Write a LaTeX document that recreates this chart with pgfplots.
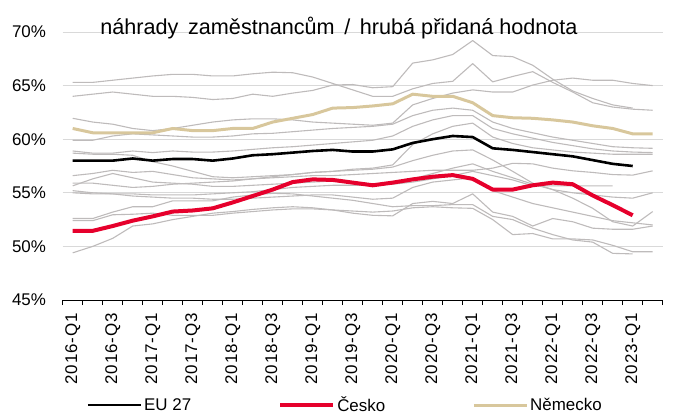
\documentclass[border=0pt]{standalone}
\usepackage{fontspec}
\setmainfont{Liberation Sans}
\usepackage{pgfplots}
\pgfplotsset{compat=1.18}
\definecolor{czred}{RGB}{230,0,44}
\definecolor{detan}{RGB}{216,199,156}
\definecolor{lgray}{RGB}{190,187,187}
\definecolor{gridc}{RGB}{217,217,217}
\begin{document}
\begin{tikzpicture}
\useasboundingbox (0,0) rectangle (678bp,417bp);
\begin{axis}[
  at={(62.7bp,117bp)}, anchor=south west,
  scale only axis, width=600bp, height=268bp,
  xmin=-0.5, xmax=29.5, ymin=45, ymax=70,
  axis x line*=bottom, axis y line*=left,
  y axis line style={draw=none},
  x axis line style={black, line width=0.9bp, -},
  ytick={45,50,...,70},
  ytick style={draw=none},
  ymajorgrids, grid style={gridc, line width=0.9bp},
  yticklabel={\pgfmathprintnumber{\tick}\%},
  /pgf/number format/assume math mode=true,
  tick label style={font=\fontsize{17}{20}\selectfont},
  yticklabel style={xshift=-9bp},
  xtick={0,2,...,28},
  xticklabels={2016-Q1,2016-Q3,2017-Q1,2017-Q3,2018-Q1,2018-Q3,2019-Q1,2019-Q3,2020-Q1,2020-Q3,2021-Q1,2021-Q3,2022-Q1,2022-Q3,2023-Q1},
  xticklabel style={rotate=90, anchor=east, font=\addfontfeatures{LetterSpace=6}\fontsize{17}{20}\selectfont},
  xticklabel shift=5bp,
  major x tick style={draw=none},
  minor xtick={-0.5,0.5,...,29.5},
  minor tick length=5bp,
  minor x tick style={black, line width=0.9bp},
  tick align=outside,
  clip=false,
  legend columns=3,
  legend image code/.code={\draw[#1] (0bp,0bp) -- (53bp,0bp);},
  legend style={at={(0.0395,-0.392)}, anchor=west, draw=none, fill=none,
    inner sep=0pt, font=\fontsize{17}{20}\selectfont,
    /tikz/every even column/.append style={column sep=85bp}},
  every axis plot/.append style={line join=round},
]
% gray countries
\addplot[lgray, line width=1.1bp, forget plot] table[x expr=\coordindex, y=v, row sep=\\]{v\\65.3\\65.3\\65.5\\65.7\\65.9\\66.05\\66.05\\65.9\\65.9\\66.1\\66.25\\66.2\\65.8\\65.2\\64.6\\64.0\\64.0\\64.7\\65.2\\65.4\\67.05\\65.35\\65.85\\66.3\\65.3\\64.4\\63.4\\63.0\\62.8\\62.7\\};
\addplot[lgray, line width=1.1bp, forget plot] table[x expr=\coordindex, y=v, row sep=\\]{v\\64.0\\64.2\\64.4\\64.2\\64.0\\64.0\\63.9\\63.7\\63.8\\64.2\\64.0\\64.3\\64.55\\65.05\\65.1\\64.8\\64.9\\67.1\\67.4\\67.9\\69.2\\67.8\\67.7\\66.9\\65.6\\64.5\\63.8\\63.2\\62.9\\};
\addplot[lgray, line width=1.1bp, forget plot] table[x expr=\coordindex, y=v, row sep=\\]{v\\61.95\\61.6\\61.4\\61.0\\60.8\\61.0\\61.3\\61.6\\61.8\\61.9\\61.9\\61.8\\61.6\\61.5\\61.4\\61.3\\61.5\\63.2\\63.8\\64.3\\64.6\\64.4\\64.4\\65.05\\65.5\\65.7\\65.5\\65.5\\65.2\\65.0\\};
\addplot[lgray, line width=1.1bp, forget plot] table[x expr=\coordindex, y=v, row sep=\\]{v\\59.9\\59.9\\60.3\\60.5\\60.4\\60.3\\60.2\\60.2\\60.3\\60.5\\60.55\\60.7\\60.85\\61.0\\61.1\\61.2\\61.4\\62.2\\62.7\\62.9\\62.7\\61.6\\61.0\\60.6\\60.2\\59.9\\59.6\\59.3\\59.2\\59.15\\};
\addplot[lgray, line width=1.1bp, forget plot] table[x expr=\coordindex, y=v, row sep=\\]{v\\58.9\\58.7\\58.7\\58.9\\58.75\\58.9\\58.8\\58.8\\58.9\\59.05\\59.2\\59.3\\59.45\\59.6\\59.75\\59.9\\60.3\\61.2\\61.8\\62.2\\62.2\\61.0\\60.5\\60.1\\59.7\\59.4\\59.1\\58.9\\58.8\\58.75\\};
\addplot[lgray, line width=1.1bp, forget plot] table[x expr=\coordindex, y=v, row sep=\\]{v\\58.7\\58.6\\58.6\\58.5\\57.9\\57.5\\57.0\\56.5\\56.4\\56.5\\56.6\\56.7\\56.9\\57.0\\57.2\\57.3\\57.6\\59.5\\60.5\\61.2\\61.5\\60.2\\59.6\\59.2\\59.0\\58.8\\58.7\\58.6\\58.6\\58.6\\};
\addplot[lgray, line width=1.1bp, forget plot] table[x expr=\coordindex, y=v, row sep=\\]{v\\56.6\\56.8\\57.1\\56.9\\57.0\\56.7\\56.4\\56.3\\56.2\\56.3\\56.4\\56.5\\56.6\\56.6\\56.7\\56.8\\56.9\\57.0\\57.1\\57.1\\57.1\\57.3\\57.75\\57.7\\57.3\\57.05\\56.9\\56.7\\56.65\\57.05\\};
\addplot[lgray, line width=1.1bp, forget plot] table[x expr=\coordindex, y=v, row sep=\\]{v\\55.9\\55.9\\55.7\\55.5\\55.6\\55.8\\55.9\\56.0\\56.1\\56.3\\56.5\\56.7\\56.9\\57.0\\57.1\\57.2\\57.4\\58.0\\58.5\\58.9\\59.0\\58.06\\57.0\\55.9\\55.3\\54.5\\53.55\\52.3\\51.9\\53.25\\};
\addplot[lgray, line width=1.1bp, forget plot] table[x expr=\coordindex, y=v, row sep=\\]{v\\55.65\\56.3\\56.8\\56.4\\56.0\\55.9\\55.8\\55.6\\55.6\\55.7\\55.8\\55.9\\56.0\\56.1\\56.0\\55.8\\55.8\\56.0\\56.3\\56.6\\57.0\\56.6\\56.2\\55.65\\55.65\\55.65\\55.65\\55.65\\};
\addplot[lgray, line width=1.1bp, forget plot] table[x expr=\coordindex, y=v, row sep=\\]{v\\55.2\\55.0\\54.9\\54.9\\54.8\\54.8\\54.8\\54.9\\55.0\\55.1\\55.3\\55.5\\55.6\\55.7\\55.7\\55.7\\55.9\\56.3\\56.8\\57.3\\57.7\\57.0\\56.4\\55.8\\55.3\\55.0\\54.8\\54.6\\54.5\\55.0\\};
\addplot[lgray, line width=1.1bp, forget plot] table[x expr=\coordindex, y=v, row sep=\\]{v\\55.0\\54.9\\54.9\\54.7\\54.6\\54.5\\54.5\\54.4\\54.4\\54.5\\54.6\\54.7\\54.8\\54.8\\54.6\\54.4\\54.5\\55.5\\56.0\\56.2\\56.4\\55.2\\54.6\\54.0\\53.6\\53.2\\52.8\\52.4\\52.2\\52.0\\};
\addplot[lgray, line width=1.1bp, forget plot] table[x expr=\coordindex, y=v, row sep=\\]{v\\52.6\\52.6\\53.2\\53.7\\53.7\\54.25\\54.25\\54.25\\54.6\\54.8\\54.95\\54.9\\54.7\\54.5\\54.3\\54.0\\53.7\\53.8\\53.8\\53.9\\53.9\\52.8\\52.5\\51.7\\51.1\\50.6\\50.4\\49.35\\49.3\\};
\addplot[lgray, line width=1.1bp, forget plot] table[x expr=\coordindex, y=v, row sep=\\]{v\\52.4\\52.4\\52.95\\53.0\\53.1\\52.9\\52.9\\52.9\\53.1\\53.25\\53.4\\53.5\\53.5\\53.4\\53.3\\53.2\\53.3\\53.6\\53.7\\53.6\\53.55\\52.5\\51.1\\51.2\\50.7\\50.7\\50.6\\50.1\\49.5\\49.5\\};
\addplot[lgray, line width=1.1bp, forget plot] table[x expr=\coordindex, y=v, row sep=\\]{v\\49.4\\50.0\\50.75\\51.9\\52.1\\52.5\\52.8\\53.1\\53.25\\53.45\\53.6\\53.7\\53.6\\53.4\\53.1\\52.9\\52.85\\54.0\\54.2\\54.0\\54.9\\53.2\\52.8\\51.9\\52.6\\52.3\\51.7\\51.6\\51.6\\51.9\\};
% highlighted series
\addplot[black, line width=2.6bp] table[x expr=\coordindex, y=v, row sep=\\]{v\\58.0\\58.0\\58.0\\58.2\\58.0\\58.15\\58.15\\58.0\\58.2\\58.5\\58.6\\58.75\\58.9\\59.0\\58.85\\58.85\\59.05\\59.65\\60.0\\60.3\\60.2\\59.15\\59.0\\58.8\\58.6\\58.4\\58.05\\57.7\\57.5\\};
\addlegendentry{EU 27}
\addplot[czred, line width=4bp] table[x expr=\coordindex, y=v, row sep=\\]{v\\51.45\\51.45\\51.9\\52.4\\52.8\\53.25\\53.35\\53.55\\54.1\\54.7\\55.3\\56.0\\56.25\\56.2\\55.95\\55.7\\55.95\\56.25\\56.5\\56.65\\56.3\\55.3\\55.3\\55.7\\55.95\\55.8\\54.75\\53.85\\52.9\\};
\addlegendentry{Česko}
\addplot[detan, line width=3bp] table[x expr=\coordindex, y=v, row sep=\\]{v\\61.0\\60.6\\60.6\\60.6\\60.6\\61.0\\60.8\\60.8\\61.0\\61.0\\61.6\\61.95\\62.3\\62.9\\62.95\\63.1\\63.3\\64.2\\64.0\\64.0\\63.4\\62.2\\62.0\\61.95\\61.8\\61.6\\61.25\\61.0\\60.5\\60.5\\};
\addlegendentry{Německo}
\node[anchor=base, font=\fontsize{21.7}{25}\selectfont] at (rel axis cs:0.4605,0.9925) {náhrady\, zaměstnancům\, /\, hrubá přidaná hodnota};
\end{axis}
\end{tikzpicture}
\end{document}
